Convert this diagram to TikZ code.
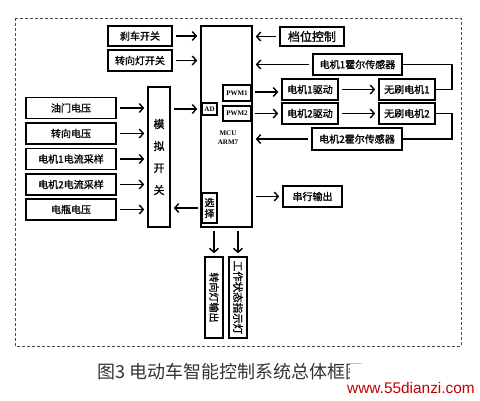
\documentclass[tikz,border=0pt]{standalone}
\usepackage{fontspec}
\newfontfamily\cjk{Noto Sans CJK SC}
\newfontfamily\cjkb{Noto Sans CJK SC}[FakeBold=1.2]
\setmainfont{Liberation Serif}
\usetikzlibrary{arrows.meta}
\begin{document}
\begin{tikzpicture}[x=1pt,y=-1pt,
  box/.style={draw, line width=1.6pt, fill=white, inner sep=0pt, align=center,
    font=\cjkb\fontsize{10}{10}\selectfont},
  small/.style={font=\bfseries\fontsize{7}{8}\selectfont},
  arr/.style={line width=1.4pt, -{Straight Barb[length=4pt,width=9pt,line width=1.4pt]},
    shorten <=3pt, shorten >=3pt},
  link/.style={line width=1.4pt},
  frame/.style={draw=black!70, line width=0.8pt, dash pattern=on 3pt off 2pt}]
\useasboundingbox (0,0) rectangle (480,400);
\draw[frame] (15,18) rectangle (461,346);

% top-left switches
\node[box, minimum width=64, minimum height=20] (brake) at (140,36) {刹车开关};
\node[box, minimum width=64, minimum height=21] (turnsw) at (140,60.5) {转向灯开关};

% MCU
\node[box, minimum width=51, minimum height=201] (mcu) at (226.5,126.5) {};
\node[box, small, line width=1.2pt, minimum width=28, minimum height=16] (pwm1) at (237,93) {PWM1};
\node[box, small, line width=1.2pt, minimum width=28, minimum height=15] (pwm2) at (237,113.5) {PWM2};
\node[box, small, line width=1.2pt, minimum width=15, minimum height=12] (ad) at (209.5,109) {AD};
\node[small, align=center, inner sep=0pt] (mcutxt) at (228,138) {MCU\\[1pt]ARM7};
\node[box, line width=1.2pt, minimum width=15, minimum height=30,
  font=\cjkb\fontsize{10}{11}\selectfont] (sel) at (209.5,208) {选\\择};

% right side
\node[box, minimum width=64, minimum height=19,
  font=\cjkb\fontsize{12}{12}\selectfont] (gear) at (312,36.5) {档位控制};
\node[box, minimum width=89, minimum height=21] (hall1) at (357.5,64.5) {电机1霍尔传感器};
\node[box, minimum width=56, minimum height=21] (drv1) at (310,89.5) {电机1驱动};
\node[box, minimum width=56, minimum height=21] (mot1) at (407,89.5) {无刷电机1};
\node[box, minimum width=56, minimum height=21] (drv2) at (310,113.5) {电机2驱动};
\node[box, minimum width=56, minimum height=21] (mot2) at (407,113.5) {无刷电机2};
\node[box, minimum width=90, minimum height=22] (hall2) at (357,139) {电机2霍尔传感器};
\node[box, minimum width=59, minimum height=21] (serial) at (312.5,196.5) {串行输出};

% analog switch
\node[box, minimum width=22, minimum height=140,
  font=\cjkb\fontsize{11}{22}\selectfont] (analog) at (159,157) {模\\拟\\开\\关};

% left inputs
\node[box, minimum width=90, minimum height=21] (v1) at (71,108) {油门电压};
\node[box, minimum width=90, minimum height=21] (v2) at (71,133.5) {转向电压};
\node[box, minimum width=90, minimum height=21] (v3) at (71,159) {电机1电流采样};
\node[box, minimum width=90, minimum height=21] (v4) at (71,184.5) {电机2电流采样};
\node[box, minimum width=90, minimum height=21] (v5) at (71,209.5) {电瓶电压};

% bottom outputs
\node[box, rotate=-90, minimum width=81, minimum height=18] (turnout) at (214,297.5) {转向灯输出};
\node[box, rotate=-90, minimum width=81, minimum height=18,
  font=\cjkb\fontsize{10.5}{10.5}\selectfont] (status) at (238,297.5) {工作状态指示灯};

% arrows
\draw[arr] (brake.east) -- (brake.east -| mcu.west);
\draw[arr] (turnsw.east) -- (turnsw.east -| mcu.west);
\draw[arr] (gear.west) -- (gear.west -| mcu.east);
\draw[arr] (hall1.west) -- (hall1.west -| mcu.east);
\draw[arr] (hall2.west) -- (hall2.west -| mcu.east);
\draw[arr] (pwm1.east |- 0,92) -- (drv1.west |- 0,92);
\draw[arr] (pwm2.east) -- (pwm2.east -| drv2.west);
\draw[arr] (drv1.east) -- (mot1.west);
\draw[arr] (drv2.east) -- (mot2.west);
\draw[link] (mot1.east) -- ++(16,0) |- (hall1.east);
\draw[link] (mot2.east) -- ++(16,0) |- (hall2.east);
\draw[arr] (analog.east |- ad.west) -- (ad.west -| mcu.west);
\draw[arr] (sel.west) -- (sel.west -| analog.east);
\draw[arr] (mcu.east |- serial.west) -- (serial.west);
\draw[arr] (mcu.south -| turnout.center) -- (turnout.west);
\draw[arr] (mcu.south -| status.center) -- (status.west);
\foreach \v in {v1,v2,v3,v4,v5}
  \draw[arr] (\v.east) -- (\v.east -| analog.west);

% caption
\node[anchor=west, inner sep=0pt, text=black!80, font=\cjk\fontsize{18}{18}\selectfont]
  (cap1) at (97,372) {图3 电动车智能控制系统总体框};
\node[anchor=base west, inner sep=0pt, text=black!80, font=\cjk\fontsize{18}{18}\selectfont]
  (cap2) at (cap1.base east) {图};
\fill[white] ([xshift=5pt]cap2.north west) rectangle (480,400);
\node[text=red!75!black, font=\fontspec{Liberation Sans}\fontsize{15.4}{16}\selectfont, inner sep=0pt]
  (wm) at (411,388) {www.55dianzi.com};
\end{tikzpicture}
\end{document}
